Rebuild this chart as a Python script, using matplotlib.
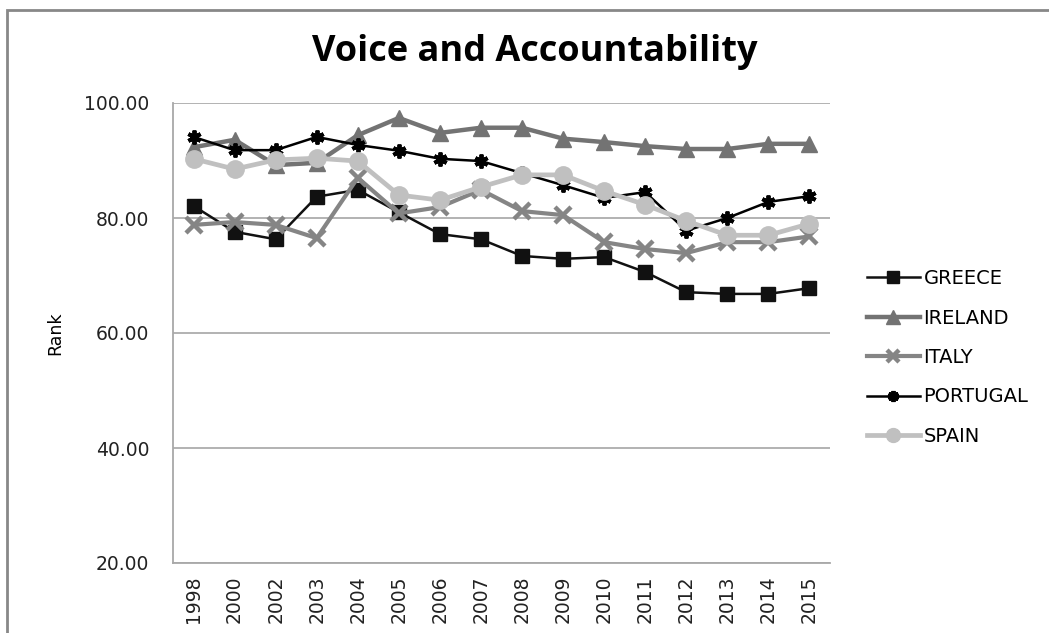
import matplotlib.pyplot as plt
from matplotlib.patches import Rectangle

# data
years = ['1998', '2000', '2002', '2003', '2004', '2005', '2006', '2007',
         '2008', '2009', '2010', '2011', '2012', '2013', '2014', '2015']
greece = [82.1, 77.6, 76.3, 83.7, 84.9, 81.0, 77.2, 76.3,
          73.4, 72.9, 73.2, 70.6, 67.1, 66.8, 66.8, 67.8]
ireland = [92.3, 93.6, 89.2, 89.6, 94.4, 97.4, 94.8, 95.7,
           95.7, 93.8, 93.2, 92.5, 92.0, 92.0, 92.9, 92.9]
italy = [78.8, 79.3, 78.8, 76.5, 87.0, 80.8, 81.9, 84.9,
         81.2, 80.5, 75.8, 74.6, 73.9, 75.8, 75.8, 76.8]
portugal = [94.1, 91.8, 91.8, 94.1, 92.7, 91.7, 90.3, 89.9,
            87.8, 85.7, 83.5, 84.5, 77.8, 80.0, 82.8, 83.8]
spain = [90.3, 88.5, 90.1, 90.4, 89.9, 84.0, 83.1, 85.4,
         87.5, 87.5, 84.7, 82.3, 79.5, 77.0, 77.0, 79.0]

fig = plt.figure(figsize=(10.49, 6.33), dpi=100)
ax = fig.add_axes([173/1049, 1 - 563/633, 657/1049, 460/633])

x = range(len(years))
ax.plot(x, greece, color='#111111', lw=1.8, marker='s', ms=10.5, label='GREECE')
ax.plot(x, ireland, color='#737373', lw=3.2, marker='^', ms=12, label='IRELAND')
ax.plot(x, italy, color='#858585', lw=3.0, marker='x', ms=11, mew=3.2, label='ITALY')
ax.plot(x, portugal, color='#000000', lw=1.8, marker=(6, 2, 0), ms=10, mew=2.8,
        label='PORTUGAL')
ax.plot(x, spain, color='#c0c0c0', lw=3.4, marker='o', ms=12.5, label='SPAIN')

ax.set_xlim(-0.5, len(years) - 0.5)
ax.set_ylim(20, 100)
ax.set_yticks([20, 40, 60, 80, 100])
ax.set_yticklabels(['20.00', '40.00', '60.00', '80.00', '100.00'])
ax.set_xticks(list(x))
ax.set_xticklabels(years, rotation=90)
ax.tick_params(axis='both', length=0, labelsize=13.5, colors='#222222')
ax.tick_params(axis='y', pad=17)
ax.tick_params(axis='x', pad=9)
ax.grid(axis='y', color='#a6a6a6', lw=1.2)
ax.set_axisbelow(True)
for s in ['top', 'right']:
    ax.spines[s].set_visible(False)
for s in ['left', 'bottom']:
    ax.spines[s].set_color('#a8a8a8')
    ax.spines[s].set_linewidth(1.3)

fig.text(55/1049, 1 - 333/633, 'Rank', rotation=90, ha='center', va='center',
         fontsize=12.5)
fig.text(535/1049, 1 - 52/633, 'Voice and Accountability', ha='center',
         va='center', fontsize=26, fontweight='bold', family='Open Sans')

ax.legend(loc='center left', bbox_to_anchor=(867/1049, 1 - 357.5/633),
          bbox_transform=fig.transFigure, frameon=False, fontsize=14,
          handlelength=2.7, handletextpad=0.2, labelspacing=1.05,
          borderpad=0, borderaxespad=0, markerscale=0.8)

fig.patches.append(Rectangle((7/1049, -0.1), 1.1, 1.1 - 10/633,
                             transform=fig.transFigure, fill=False,
                             edgecolor='#888888', lw=2))

plt.savefig('out.png', dpi=100)
